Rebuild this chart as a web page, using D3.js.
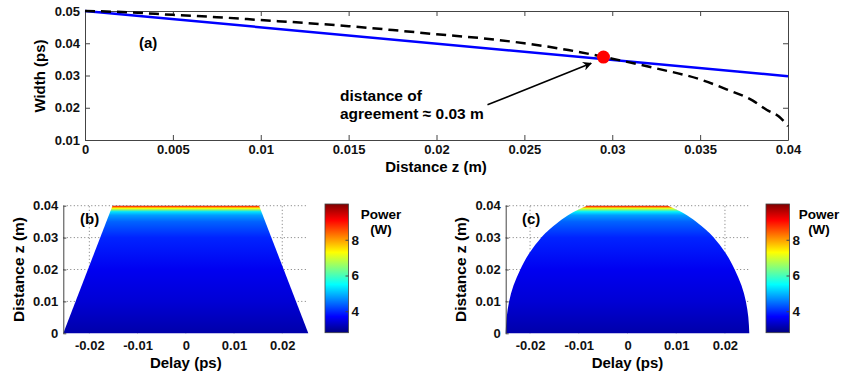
<!DOCTYPE html>
<html><head><meta charset="utf-8">
<script src="https://cdn.jsdelivr.net/npm/d3@7"></script>
<style>
body{margin:0;background:#fff}
svg{display:block;font-family:"Liberation Sans",Arial,sans-serif;font-weight:bold}
</style>
</head><body><svg id="chart" width="841" height="375"></svg>
<script>
// ---------- data ----------
const distTicks = [0, 0.005, 0.01, 0.015, 0.02, 0.025, 0.03, 0.035, 0.04];
const distTickLabels = ["0", "0.005", "0.01", "0.015", "0.02", "0.025", "0.03", "0.035", "0.04"];
const widthTicks = [0.01, 0.02, 0.03, 0.04, 0.05];
const widthTickLabels = ["0.01", "0.02", "0.03", "0.04", "0.05"];

const linearZ = [0, 0.04];
const linearWidth = [0.05, 0.0298];
const exactZ = [0, 0.0025, 0.005, 0.0075, 0.01, 0.0125, 0.015, 0.0175, 0.02, 0.0225, 0.025, 0.0275, 0.03, 0.0325, 0.035, 0.0365, 0.038, 0.0388, 0.0395, 0.04];
const exactWidth = [0.05, 0.0496, 0.0488, 0.0481, 0.0472, 0.0463, 0.0453, 0.0441, 0.0428, 0.0416, 0.0400, 0.0379, 0.0352, 0.0322, 0.0288, 0.0257, 0.0222, 0.0193, 0.0172, 0.0143];
const agreementPoint = [0.0295, 0.0357];
const arrowFrom = [0.0229, 0.0209];
const arrowTo = [0.0288, 0.0338];

const delayTicks = [-0.02, -0.01, 0, 0.01, 0.02];
const delayTickLabels = ["-0.02", "-0.01", "0", "0.01", "0.02"];
const zTicks = [0, 0.01, 0.02, 0.03, 0.04];
const zTickLabels = ["0", "0.01", "0.02", "0.03", "0.04"];
const powerTicks = [4, 6, 8];
const powerTickLabels = ["4", "6", "8"];
const powerDomain = [2.8, 10];

const trapZ = [0, 0.04];
const trapHalfWidth = [0.0254, 0.0152];
const ellZ = [0, 0.005, 0.01, 0.015, 0.02, 0.025, 0.03, 0.0325, 0.035, 0.0375, 0.039, 0.04];
const ellHalfWidth = [0.025, 0.0248, 0.0243, 0.0234, 0.0220, 0.0202, 0.0177, 0.0161, 0.0141, 0.0117, 0.0098, 0.0083];

const powerZb = [0, 0.01, 0.02, 0.03, 0.035, 0.037, 0.0381, 0.0392, 0.0399, 0.04];
const powerB = [3.1, 3.4, 3.6, 3.95, 4.4, 4.8, 5.3, 7.3, 9.0, 9.9];
const powerZc = [0, 0.01, 0.02, 0.03, 0.035, 0.037, 0.0381, 0.0392, 0.0399, 0.04];
const powerC = [3.1, 3.4, 3.6, 3.95, 4.4, 4.8, 5.4, 7.2, 9.0, 9.9];

// ---------- helpers ----------
const svg = d3.select("#chart");
const defs = svg.append("defs");
const AX = "#444";
function clamp(v){ return Math.max(0, Math.min(1, v)); }
function jet(t){
  const r = clamp(1.5 - Math.abs(4*t - 3));
  const g = clamp(1.5 - Math.abs(4*t - 2));
  const b = clamp(1.5 - Math.abs(4*t - 1));
  return d3.rgb(r*255, g*255, b*255).toString();
}
const color = d3.scaleSequential(jet).domain(powerDomain);
function labelFmt(ticks, labels){ return d => labels[ticks.indexOf(d)]; }
function styleAxis(g, fs){
  g.select(".domain").attr("stroke", AX).attr("stroke-width", 1);
  g.selectAll(".tick line").attr("stroke", AX);
  g.selectAll(".tick text").attr("fill", "#111").style("font-size", fs + "px").style("font-weight", "bold")
    .style("font-family", '"Liberation Sans",Arial,sans-serif');
}

// ---------- panel (a) ----------
const xa = d3.scaleLinear().domain([0, 0.04]).range([85, 788]);
const ya = d3.scaleLinear().domain([0.01, 0.05]).range([140, 11]);
const pa = svg.append("g");

pa.append("g").attr("transform", `translate(0,${ya(0.01)})`)
  .call(d3.axisBottom(xa).tickValues(distTicks).tickFormat(labelFmt(distTicks, distTickLabels)).tickSizeInner(-5).tickSizeOuter(0).tickPadding(5))
  .call(g => styleAxis(g, 13));
pa.append("g").attr("transform", `translate(0,${ya(0.05)})`)
  .call(d3.axisTop(xa).tickValues(distTicks).tickFormat("").tickSizeInner(-5).tickSizeOuter(0))
  .call(g => styleAxis(g, 13));
pa.append("g").attr("transform", `translate(${xa(0)},0)`)
  .call(d3.axisLeft(ya).tickValues(widthTicks).tickFormat(labelFmt(widthTicks, widthTickLabels)).tickSizeInner(-5).tickSizeOuter(0).tickPadding(5))
  .call(g => styleAxis(g, 13));
pa.append("g").attr("transform", `translate(${xa(0.04)},0)`)
  .call(d3.axisRight(ya).tickValues(widthTicks).tickFormat("").tickSizeInner(-5).tickSizeOuter(0))
  .call(g => styleAxis(g, 13));

const lineA = d3.line().x(d => xa(d[0])).y(d => ya(d[1]));
pa.append("path").datum(linearZ.map((z,i)=>[z, linearWidth[i]]))
  .attr("d", lineA).attr("fill", "none").attr("stroke", "#0000ff").attr("stroke-width", 2.5);
pa.append("path").datum(exactZ.map((z,i)=>[z, exactWidth[i]]))
  .attr("d", lineA.curve(d3.curveMonotoneX)).attr("fill", "none").attr("stroke", "#000")
  .attr("stroke-width", 2.5).attr("stroke-dasharray", "10,6");
pa.append("circle").attr("cx", xa(agreementPoint[0])).attr("cy", ya(agreementPoint[1])).attr("r", 6.5).attr("fill", "#ff0000");

defs.append("marker").attr("id", "arrowhead").attr("viewBox", "0 0 10 10").attr("refX", 9).attr("refY", 5)
  .attr("markerWidth", 9).attr("markerHeight", 9).attr("orient", "auto").attr("markerUnits", "userSpaceOnUse")
  .append("path").attr("d", "M0,0 L10,5 L0,10 L3,5 Z").attr("fill", "#000");
pa.append("line").attr("x1", xa(arrowFrom[0])).attr("y1", ya(arrowFrom[1]))
  .attr("x2", xa(arrowTo[0])).attr("y2", ya(arrowTo[1])).attr("stroke", "#000").attr("stroke-width", 1.6)
  .attr("marker-end", "url(#arrowhead)");

pa.append("text").attr("x", 340).attr("y", 101).style("font-size", "15.5px").text("distance of");
pa.append("text").attr("x", 340).attr("y", 119).style("font-size", "15.5px").text("agreement \u2248 0.03 m");
pa.append("text").attr("x", 139).attr("y", 48).style("font-size", "15px").text("(a)");
pa.append("text").attr("x", 436).attr("y", 172).attr("text-anchor", "middle").style("font-size", "15px").text("Distance z (m)");
pa.append("text").attr("transform", "translate(45,76) rotate(-90)").attr("text-anchor", "middle").style("font-size", "15px").text("Width (ps)");

// ---------- heat panels ----------
function heatPanel(opt){
  const x = d3.scaleLinear().domain(opt.xDomain).range([opt.left, opt.right]);
  const y = d3.scaleLinear().domain([0, 0.04]).range([333.3, 205.7]);
  const g = svg.append("g");
  // grid
  g.selectAll(".vg").data(delayTicks).join("line")
    .attr("x1", d => x(d)).attr("x2", d => x(d)).attr("y1", y(0)).attr("y2", y(0.04))
    .attr("stroke", "#777").attr("stroke-width", 1).attr("stroke-dasharray", "1,2.5");
  g.selectAll(".hg").data(zTicks.filter(d => d > 0)).join("line")
    .attr("x1", x.range()[0]).attr("x2", x.range()[1]).attr("y1", d => y(d)).attr("y2", d => y(d))
    .attr("stroke", "#777").attr("stroke-width", 1).attr("stroke-dasharray", "1,2.5");
  // gradient
  const gid = "grad" + opt.id;
  const grad = defs.append("linearGradient").attr("id", gid).attr("gradientUnits", "userSpaceOnUse")
    .attr("x1", 0).attr("x2", 0).attr("y1", y(0)).attr("y2", y(0.04));
  opt.pz.forEach((z, i) => {
    grad.append("stop").attr("offset", (y(z) - y(0)) / (y(0.04) - y(0))).attr("stop-color", color(opt.p[i]));
  });
  const area = d3.area().y(d => y(d[0])).x0(d => x(-d[1])).x1(d => x(d[1])).curve(opt.curve);
  g.append("path").datum(opt.sz.map((z,i)=>[z, opt.hw[i]])).attr("d", area).attr("fill", `url(#${gid})`);
  // axes
  g.append("g").attr("transform", `translate(0,${y(0)})`)
    .call(d3.axisBottom(x).tickValues(delayTicks).tickFormat(labelFmt(delayTicks, delayTickLabels)).tickSize(0).tickPadding(7))
    .call(a => styleAxis(a, 13)).call(a => a.select(".domain").remove());
  g.append("g").attr("transform", `translate(${x.range()[0]},0)`)
    .call(d3.axisLeft(y).tickValues(zTicks).tickFormat(labelFmt(zTicks, zTickLabels)).tickSizeInner(-3).tickSizeOuter(0).tickPadding(5))
    .call(a => styleAxis(a, 13));
  g.append("text").attr("x", opt.tagX).attr("y", 224).style("font-size", "15px").text(opt.tag);
  g.append("text").attr("x", (opt.left + opt.right) / 2).attr("y", 368).attr("text-anchor", "middle").style("font-size", "15px").text("Delay (ps)");
  g.append("text").attr("transform", `translate(${opt.ylabX},${(y(0)+y(0.04))/2}) rotate(-90)`).attr("text-anchor", "middle").style("font-size", "15.5px").text("Distance z (m)");
  // colorbar
  const cy = d3.scaleLinear().domain(powerDomain).range([332.7, 204]);
  const cg = "cbar" + opt.id;
  const cgrad = defs.append("linearGradient").attr("id", cg).attr("x1", 0).attr("x2", 0).attr("y1", 1).attr("y2", 0);
  d3.range(0, 1.0001, 0.125).forEach(t => cgrad.append("stop").attr("offset", t).attr("stop-color", jet(t)));
  g.append("rect").attr("x", opt.cbx).attr("y", cy(powerDomain[1])).attr("width", 23.5)
    .attr("height", cy(powerDomain[0]) - cy(powerDomain[1])).attr("fill", `url(#${cg})`)
    .attr("stroke", AX).attr("stroke-width", 0.8);
  g.append("g").attr("transform", `translate(${opt.cbx + 23.5},0)`)
    .call(d3.axisRight(cy).tickValues(powerTicks).tickFormat(labelFmt(powerTicks, powerTickLabels)).tickSizeInner(-3).tickSizeOuter(0).tickPadding(3))
    .call(a => styleAxis(a, 13.5)).call(a => a.select(".domain").remove());
  g.append("text").attr("x", opt.cbx + opt.pwOff).attr("y", 219).attr("text-anchor", "middle").style("font-size", "13.5px").text("Power");
  g.append("text").attr("x", opt.cbx + opt.pwOff).attr("y", 234).attr("text-anchor", "middle").style("font-size", "13.5px").text("(W)");
}

heatPanel({id: "b", xDomain: [-0.0254, 0.0254], left: 63.3, right: 308.3, sz: trapZ, hw: trapHalfWidth,
  curve: d3.curveLinear, pz: powerZb, p: powerB, tag: "(b)", tagX: 80, ylabX: 24, cbx: 325, pwOff: 56});
heatPanel({id: "c", xDomain: [-0.025, 0.025], left: 505.7, right: 749.3, sz: ellZ, hw: ellHalfWidth,
  curve: d3.curveNatural, pz: powerZc, p: powerC, tag: "(c)", tagX: 522, ylabX: 466, cbx: 766, pwOff: 53});
</script>
</body></html>
